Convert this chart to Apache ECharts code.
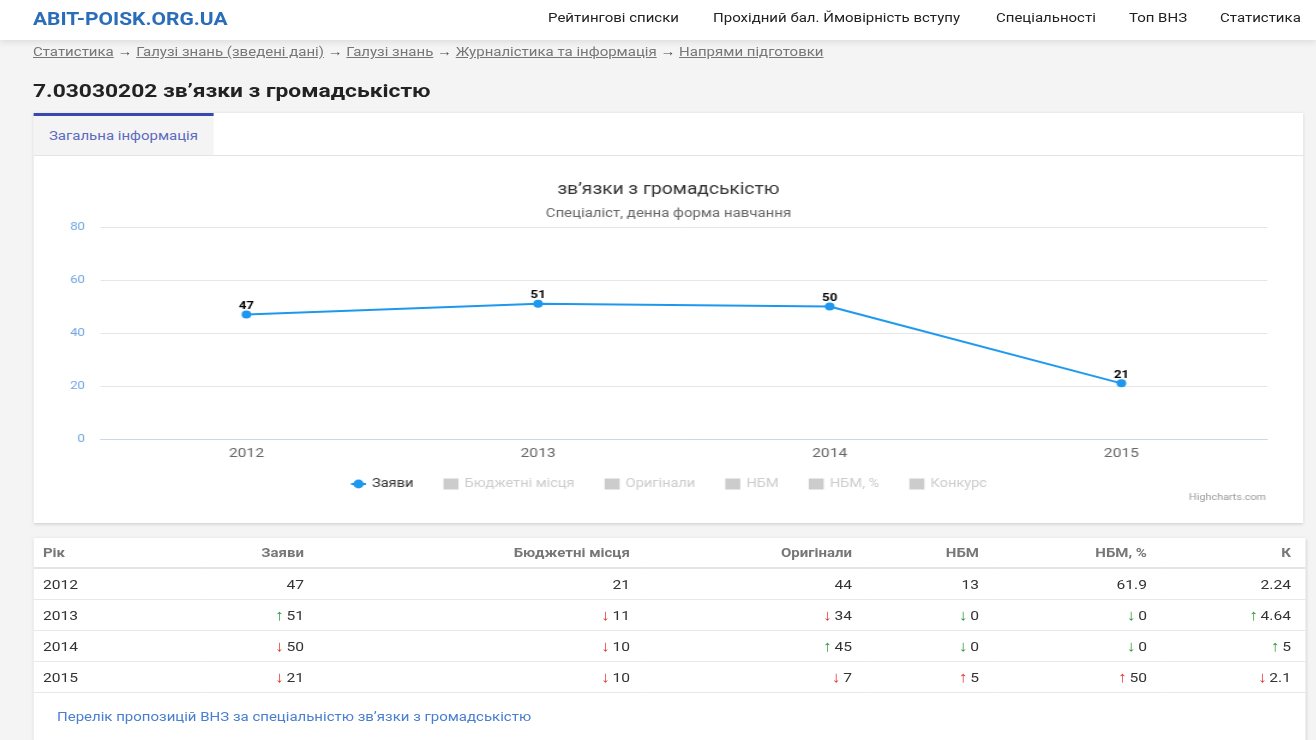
<!DOCTYPE html>
<html lang="uk">
<head>
<meta charset="utf-8">
<title>7.03030202 зв'язки з громадськістю</title>
<script src="https://cdn.jsdelivr.net/npm/echarts@6/dist/echarts.min.js"></script>
<style>
  html, body { margin:0; padding:0; width:1316px; height:740px; overflow:hidden; background:#f4f4f4; font-family: Roboto, "Noto Sans", Arial, sans-serif; }
  /* the reference screenshot is stretched 1.2x horizontally: lay out at 1096.67px and stretch */
  #page { position:absolute; left:0; top:0; width:1096.67px; height:740px; transform:scaleX(1.2); transform-origin:0 0; }
  #header { position:absolute; left:0; top:0; width:1096.67px; height:40px; background:#fff; box-shadow:0 2px 6px rgba(0,0,0,0.10); z-index:2; }
  #logo { position:absolute; left:27.5px; top:9px; font-size:17.5px; font-weight:bold; color:#2a6db8; }
  .nav { position:absolute; top:10px; font-size:12.5px; color:#222; white-space:nowrap; }
  #crumbs { position:absolute; left:27.5px; top:44px; font-size:12.5px; color:#444; white-space:nowrap; }
  #crumbs a { color:#777; text-decoration:underline; }
  #h1 { position:absolute; left:27.5px; top:79px; font-size:19px; font-weight:bold; color:#222; margin:0; white-space:nowrap; }
  #card { position:absolute; left:27.5px; top:113px; width:1058.33px; height:410px; background:#fff; box-shadow:0 1px 3px rgba(0,0,0,0.18); }
  #tab { position:absolute; left:0; top:0; width:150.8px; height:39px; background:#f4f4f4; border-top:3px solid #3949ab; font-size:12.5px; color:#5c6bc0; line-height:40px; text-align:center; }
  #tabline { position:absolute; left:0; top:42px; width:1058.33px; height:1px; background:#e4e4e4; }
  #chart { position:absolute; left:0; top:43px; width:1058.33px; height:366px; }
  #tcard { position:absolute; left:27.5px; top:538px; width:1060px; height:220px; background:#fff; box-shadow:0 1px 3px rgba(0,0,0,0.18); }
  table { border-collapse:collapse; table-layout:fixed; width:1060px; }
  th { height:29px; font-size:12.5px; font-weight:bold; color:#777; text-align:right; padding:0 11.7px 0 8.3px; border-bottom:2px solid #e4e4e4; }
  td { height:30px; font-size:13px; color:#333; text-align:right; padding:0 11.7px 0 8.3px; border-bottom:1px solid #e8e8e8; }
  th:first-child, td:first-child { text-align:left; }
  .good, .bad { margin-right:2px; font-size:15px; line-height:13px; }
  .good { color:#2e9e44; }
  .bad { color:#e53935; }
  #link { position:absolute; left:20px; top:171px; font-size:12.5px; color:#4a7fd0; white-space:nowrap; }
</style>
</head>
<body>
<div id="page">
<div id="header">
  <div id="logo">ABIT-POISK.ORG.UA</div>
  <div class="nav" style="left:456.7px">Рейтингові списки</div>
  <div class="nav" style="left:594.2px">Прохідний бал. Ймовірність вступу</div>
  <div class="nav" style="left:830px">Спеціальності</div>
  <div class="nav" style="left:940.8px">Топ ВНЗ</div>
  <div class="nav" style="left:1016.7px">Статистика</div>
</div>
<div id="crumbs"><a>Статистика</a> → <a>Галузі знань (зведені дані)</a> → <a>Галузі знань</a> → <a>Журналістика та інформація</a> → <a>Напрями підготовки</a></div>
<h1 id="h1">7.03030202 зв’язки з громадськістю</h1>
<div id="card">
  <div id="tab">Загальна інформація</div>
  <div id="tabline"></div>
  <div id="chart"></div>
</div>
<div id="tcard">
  <table id="tbl">
    <colgroup>
      <col style="width:139.2px"><col style="width:98.3px"><col style="width:271.7px"><col style="width:185px"><col style="width:105.8px"><col style="width:140px"><col style="width:120px">
    </colgroup>
    <thead><tr id="thead"></tr></thead>
    <tbody id="tbody"></tbody>
  </table>
  <div id="link">Перелік пропозицій ВНЗ за спеціальністю зв’язки з громадськістю</div>
</div>
</div>
<script>
// ---- data ----
const years = ['2012', '2013', '2014', '2015'];
const applications = [47, 51, 50, 21];      // Заяви
const budgetPlaces = [21, 11, 10, 10];      // Бюджетні місця
const originals = [44, 34, 45, 7];          // Оригінали
const nbm = [13, 0, 0, 5];                  // НБМ
const nbmPct = [61.9, 0, 0, 50];            // НБМ, %
const competition = [2.24, 4.64, 5, 2.1];   // Конкурс / К
const yTicks = [0, 20, 40, 60, 80];
const chartTitle = 'зв’язки з громадськістю';
const chartSubtitle = 'Спеціаліст, денна форма навчання';
const seriesNames = ['Заяви', 'Бюджетні місця', 'Оригінали', 'НБМ', 'НБМ, %', 'Конкурс'];
const tableHeaders = ['Рік', 'Заяви', 'Бюджетні місця', 'Оригінали', 'НБМ', 'НБМ, %', 'К'];
// for which columns a decrease is "good"
const lowerIsBetter = [false, false, false, true, true, false];

// ---- table ----
const cols = [applications, budgetPlaces, originals, nbm, nbmPct, competition];
document.getElementById('thead').innerHTML = tableHeaders.map(h => '<th>' + h + '</th>').join('');
let rows = '';
years.forEach((y, i) => {
  let r = '<td>' + y + '</td>';
  cols.forEach((c, k) => {
    if (i === 0) { r += '<td>' + c[i] + '</td>'; return; }
    const up = c[i] > c[i - 1];
    const good = lowerIsBetter[k] ? !up : up;
    r += '<td><span class="' + (good ? 'good' : 'bad') + '">' + (up ? '↑' : '↓') + '</span>' + c[i] + '</td>';
  });
  rows += '<tr>' + r + '</tr>';
});
document.getElementById('tbody').innerHTML = rows;

// ---- chart ----
const chart = echarts.init(document.getElementById('chart'), null, { renderer: 'canvas' });
const hidden = {};
seriesNames.slice(1).forEach(n => hidden[n] = false);
const barData = [budgetPlaces, originals, nbm, nbmPct, competition];
const barColors = ['#434348', '#90ed7d', '#f7a35c', '#8085e9', '#f15c80'];

chart.setOption({
  animation: false,
  title: [
    { text: chartTitle, left: 'center', top: 21, textStyle: { fontSize: 16, fontWeight: 'normal', color: '#333', fontFamily: 'Roboto' } },
    { text: chartSubtitle, left: 'center', top: 46, textStyle: { fontSize: 12.5, fontWeight: 'normal', color: '#666', fontFamily: 'Roboto' } }
  ],
  grid: { left: 55.8, right: 30, top: 71, bottom: 83 },
  legend: {
    top: 317, left: 'center',
    itemGap: 25, itemWidth: 12.5, itemHeight: 11,
    textStyle: { fontSize: 12.2, color: '#333', fontFamily: 'Roboto' },
    inactiveColor: '#cccccc',
    selected: hidden,
    data: seriesNames.map((n, i) => i === 0 ? { name: n } : { name: n, icon: 'rect' })
  },
  xAxis: {
    type: 'category', data: years, boundaryGap: true,
    axisLine: { lineStyle: { color: '#ccd6eb' } },
    axisTick: { length: 8, lineStyle: { color: '#ccd6eb' } },
    axisLabel: { color: '#666', fontSize: 13, margin: 8, fontFamily: 'Roboto' }
  },
  yAxis: {
    type: 'value', min: yTicks[0], max: yTicks[yTicks.length - 1], interval: yTicks[1] - yTicks[0],
    axisLine: { show: false }, axisTick: { show: false },
    axisLabel: { color: '#6fa3e0', fontSize: 11, margin: 13, fontFamily: 'Roboto' },
    splitLine: { lineStyle: { color: '#e6e6e6' } }
  },
  graphic: [{
    type: 'text', right: 31, top: 337,
    style: { text: 'Highcharts.com', fill: '#999', fontSize: 9, fontFamily: 'Roboto' }
  }],
  series: [{
    name: seriesNames[0], type: 'line', data: applications,
    color: '#1e98ee',
    lineStyle: { width: 2, color: '#1e98ee' },
    symbol: 'circle', symbolSize: 8, showAllSymbol: true,
    itemStyle: { color: '#1e98ee' },
    label: { show: true, position: 'top', distance: -1, fontSize: 11, fontWeight: 'bold', color: '#000', textBorderColor: '#fff', textBorderWidth: 2, fontFamily: 'Roboto' }
  }].concat(barData.map((d, i) => ({
    name: seriesNames[i + 1], type: 'bar', data: d, color: barColors[i]
  })))
});
</script>
</body>
</html>
